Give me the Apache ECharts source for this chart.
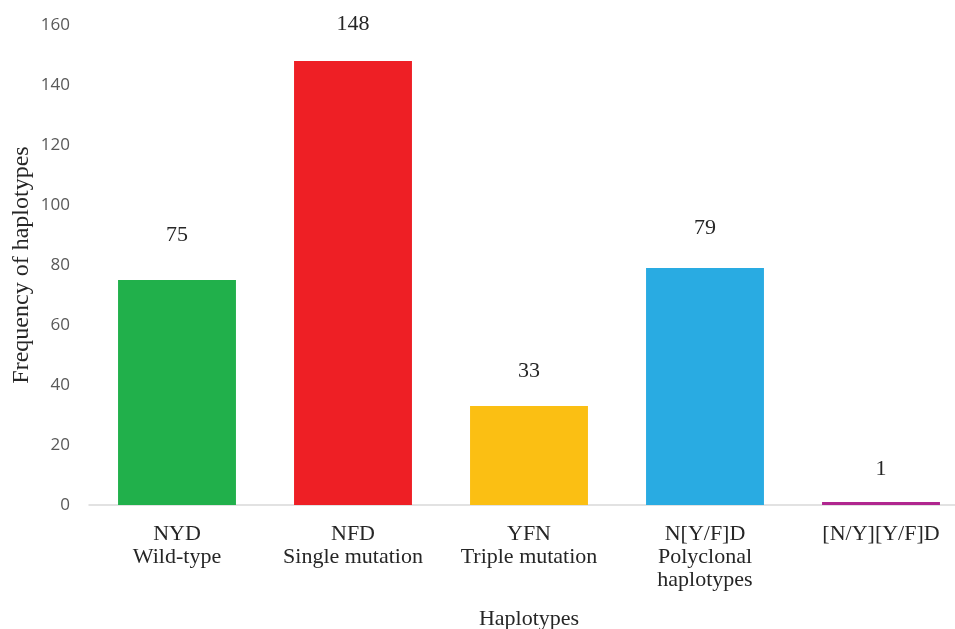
<!DOCTYPE html>
<html>
<head>
<meta charset="utf-8">
<script src="https://cdn.jsdelivr.net/npm/echarts@6/dist/echarts.min.js"></script>
<style>
  html, body { margin: 0; padding: 0; background: #ffffff; }
  #chart { width: 955px; height: 629px; }
</style>
</head>
<body>
<div id="chart"></div>
<script>
// Haplotype frequencies
const categories = [
  'NYD\nWild-type',
  'NFD\nSingle mutation',
  'YFN\nTriple mutation',
  'N[Y/F]D\nPolyclonal\nhaplotypes',
  '[N/Y][Y/F]D'
];
const frequencies = [75, 148, 33, 79, 1];
const barColors = ['#21b04b', '#ee1f25', '#fbbf13', '#29abe2', '#b0268f'];
const yTicks = { min: 0, max: 160, interval: 20 };

// Gap (px) between each bar top and its value label
const labelLift = [34, 26, 24, 29, 22];

const serif = '"Liberation Serif", "Times New Roman", serif';

const chart = echarts.init(document.getElementById('chart'), null, { renderer: 'canvas' });
chart.setOption({
  animation: false,
  grid: {
    left: 89, top: 25, width: 880, height: 480,
    containLabel: false,
    outerBoundsMode: 'none'
  },
  xAxis: {
    type: 'category',
    data: categories,
    name: 'Haplotypes',
    nameLocation: 'middle',
    nameGap: 103,
    nameMoveOverlap: false,
    nameTextStyle: { fontFamily: serif, fontSize: 22, color: '#262626' },
    axisLine: { lineStyle: { color: '#d9d9d9', width: 1.5 } },
    axisTick: { show: false },
    axisLabel: {
      interval: 0,
      margin: 18,
      fontFamily: serif,
      fontSize: 22,
      lineHeight: 23,
      color: '#262626'
    }
  },
  yAxis: {
    type: 'value',
    min: yTicks.min,
    max: yTicks.max,
    interval: yTicks.interval,
    name: 'Frequency of haplotypes',
    nameLocation: 'middle',
    nameGap: 55,
    nameMoveOverlap: false,
    nameRotate: 90,
    nameTextStyle: { fontFamily: serif, fontSize: 24, color: '#262626' },
    axisLine: { show: false },
    axisTick: { show: false },
    splitLine: { show: false },
    axisLabel: {
      margin: 19,
      fontFamily: '"Open Sans", "Noto Sans", sans-serif',
      fontSize: 17,
      color: '#595959'
    }
  },
  series: [{
    type: 'bar',
    data: frequencies.map((v, i) => ({
      value: v,
      itemStyle: { color: barColors[i] },
      label: { distance: labelLift[i] }
    })),
    barCategoryGap: '33%',
    label: {
      show: true,
      position: 'top',
      fontFamily: serif,
      fontSize: 22,
      color: '#262626'
    }
  }]
});
</script>
</body>
</html>
